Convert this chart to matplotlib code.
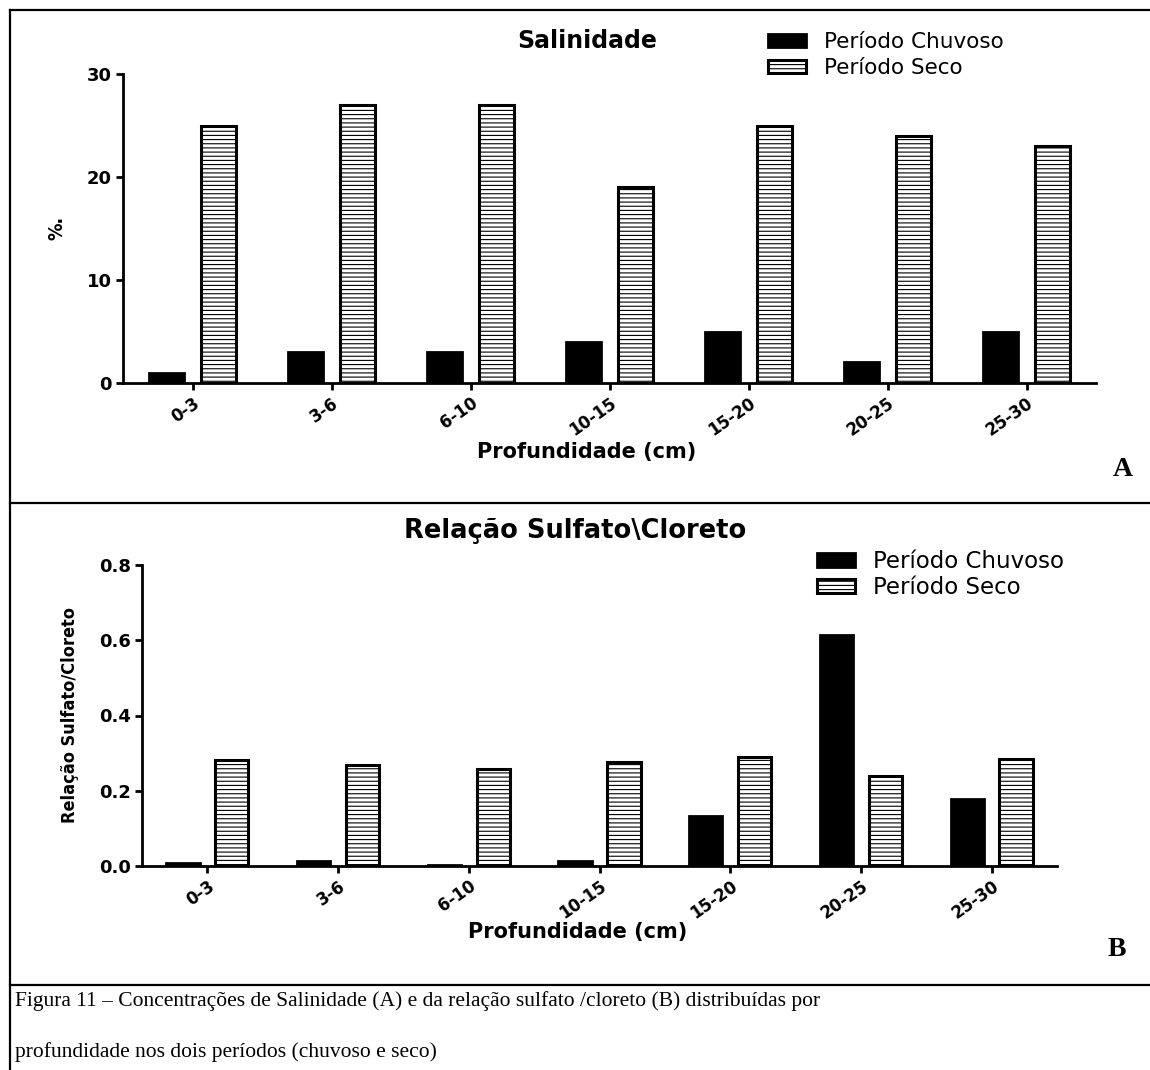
import matplotlib
matplotlib.use('Agg')
import matplotlib.pyplot as plt
from matplotlib import font_manager
from matplotlib.lines import Line2D
import numpy as np

# ---------------- data ----------------
categories = ['0-3', '3-6', '6-10', '10-15', '15-20', '20-25', '25-30']
sal_chuvoso = [1, 3, 3, 4, 5, 2, 5]
sal_seco = [25, 27, 27, 19, 25, 24, 23]
rel_chuvoso = [0.008, 0.012, 0.003, 0.012, 0.132, 0.614, 0.178]
rel_seco = [0.281, 0.269, 0.258, 0.277, 0.290, 0.239, 0.285]
sal_yticks = [0, 10, 20, 30]
rel_yticks = [0.0, 0.2, 0.4, 0.6, 0.8]
series_labels = ['Período Chuvoso', 'Período Seco']
panel_titles = ['Salinidade', 'Relação Sulfato\\Cloreto']
x_label = 'Profundidade (cm)'
y_labels = ['%.', 'Relação Sulfato/Cloreto']
panel_letters = ['A', 'B']
caption_lines = [
    'Figura 11 – Concentrações de Salinidade (A) e da relação sulfato /cloreto (B) distribuídas por',
    'profundidade nos dois períodos (chuvoso e seco)',
]

# ---------------- style ----------------
plt.rcParams['font.family'] = ['DejaVu Sans']
plt.rcParams['hatch.linewidth'] = 0.8

def has_font(name):
    try:
        font_manager.findfont(font_manager.FontProperties(family=name),
                              fallback_to_default=False)
        return True
    except Exception:
        return False

narrow = 'Liberation Sans Narrow' if has_font('Liberation Sans Narrow') else None

W, H = 1150, 1070
fig = plt.figure(figsize=(W / 100, H / 100), dpi=100)

def fx(px):
    return px / W

def fy(py):
    return 1 - py / H

# panel borders
for seg in [([10, 10], [10, H]), ([10, W], [10, 10]), ([10, W], [503, 503]), ([10, W], [985, 985])]:
    xs, ys = seg
    fig.add_artist(Line2D([fx(v) for v in xs], [fy(v) for v in ys], color='black', lw=1.6))

def draw_panel(rect, chuv, seco, yticks, ylim, fmt, title, title_xy, title_fs, ylabel, ylabel_xy,
               ylabel_font, xlabel_xy, leg_anchor, leg_fs, leg_spacing, letter, letter_xy):
    ax = fig.add_axes(rect)
    x = np.arange(len(categories))
    off, w = 0.187, 0.255
    ax.bar(x - off, chuv, w, color='black', edgecolor='black', linewidth=2.0,
           label=series_labels[0], zorder=3)
    ax.bar(x + off, seco, w, color='white', edgecolor='black', linewidth=2.2,
           hatch='----', label=series_labels[1], zorder=3)
    ax.set_xlim(-0.5, 6.5)
    ax.set_ylim(*ylim)
    ax.set_yticks(yticks)
    ax.set_yticklabels([fmt.format(v) for v in yticks], fontweight='bold', fontsize=13)
    ax.set_xticks(x)
    ax.set_xticklabels(categories, fontweight='bold', fontsize=12, rotation=35,
                       ha='right', va='top', rotation_mode='anchor')
    for s in ['top', 'right']:
        ax.spines[s].set_visible(False)
    for s in ['left', 'bottom']:
        ax.spines[s].set_linewidth(2.0)
    ax.tick_params(axis='both', direction='out', length=5, width=2.0, pad=3)
    ax.tick_params(axis='x', pad=3)

    fig.text(fx(title_xy[0]), fy(title_xy[1]), title, fontsize=title_fs, fontweight='bold',
             ha='center', va='center')
    fig.text(fx(xlabel_xy[0]), fy(xlabel_xy[1]), x_label, fontsize=15, fontweight='bold',
             ha='center', va='center')
    fig.text(fx(ylabel_xy[0]), fy(ylabel_xy[1]), ylabel, rotation=90, ha='center', va='center',
             **ylabel_font)
    fig.text(fx(letter_xy[0]), fy(letter_xy[1]), letter, family='Liberation Serif',
             fontweight='bold', fontsize=20, ha='center', va='center')

    fs_px = leg_fs * 100 / 72
    ax.legend(loc='upper left', bbox_to_anchor=(fx(leg_anchor[0]), fy(leg_anchor[1])),
              bbox_transform=fig.transFigure, frameon=False, fontsize=leg_fs,
              borderpad=0, borderaxespad=0, handlelength=38 / fs_px,
              handleheight=12 / fs_px, handletextpad=18 / fs_px, labelspacing=leg_spacing)
    return ax

# top panel
draw_panel([fx(123), fy(383), (1096 - 123) / W, (383 - 74) / H],
           sal_chuvoso, sal_seco, sal_yticks, (0, 30), '{:d}',
           panel_titles[0], (587, 41), 17,
           y_labels[0], (57, 228), dict(fontsize=14, fontweight='bold', fontstretch='condensed'),
           (587, 452), (768, 32), 15.5, 0.3, panel_letters[0], (1123, 470))

# bottom panel
if narrow:
    yl_font = dict(family=narrow, fontsize=15.5, fontweight='bold')
else:
    yl_font = dict(fontsize=13, fontweight='bold', fontstretch='condensed')
draw_panel([fx(142), fy(866), (1057 - 142) / W, (866 - 565) / H],
           rel_chuvoso, rel_seco, rel_yticks, (0, 0.8), '{:.1f}',
           panel_titles[1], (575, 531), 18.5,
           y_labels[1], (70, 715), yl_font,
           (578, 932), (817, 550), 16.5, 0.14, panel_letters[1], (1117, 950))

# caption
fig.text(fx(15), fy(1006), caption_lines[0], family='Liberation Serif', fontsize=15.5,
         ha='left', va='baseline')
fig.text(fx(15), fy(1057), caption_lines[1], family='Liberation Serif', fontsize=15.5,
         ha='left', va='baseline')

fig.savefig('out.png', dpi=100)
